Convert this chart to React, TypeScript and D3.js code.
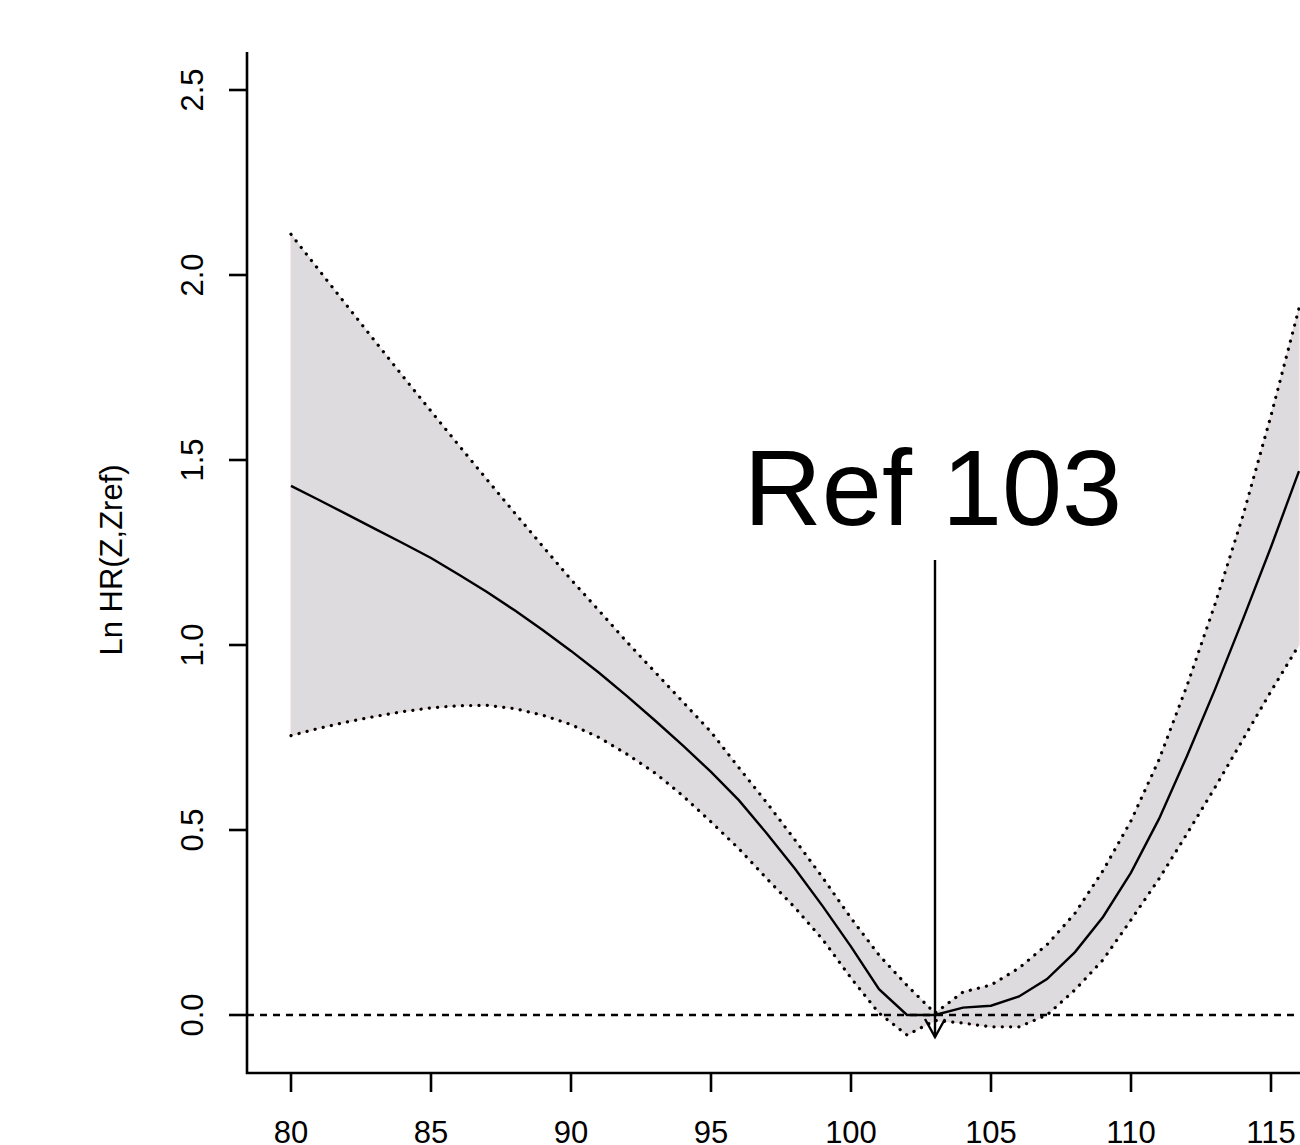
import React, { useEffect, useRef } from "react";
import * as d3 from "d3";

// hemoglobin-like exposure (x) vs log hazard ratio, reference at 103
const xValues = [80, 81, 82, 83, 84, 85, 86, 87, 88, 89, 90, 91, 92, 93, 94, 95, 96, 97, 98, 99, 100,
  101, 102, 103, 104, 105, 106, 107, 108, 109, 110, 111, 112, 113, 114, 115, 116];
const fitValues = [1.43, 1.392, 1.353, 1.314, 1.275, 1.235, 1.19, 1.143, 1.093, 1.04, 0.984, 0.925, 0.862,
  0.796, 0.728, 0.657, 0.58, 0.49, 0.395, 0.293, 0.185, 0.07, 0, 0, 0.02, 0.025, 0.05, 0.097, 0.17, 0.265,
  0.385, 0.53, 0.7, 0.88, 1.07, 1.265, 1.47];
const upperValues = [2.11, 2.013, 1.917, 1.821, 1.726, 1.632, 1.539, 1.447, 1.356, 1.266, 1.177, 1.093,
  1.008, 0.927, 0.846, 0.765, 0.668, 0.573, 0.473, 0.37, 0.262, 0.162, 0.08, 0.005, 0.062, 0.081, 0.127,
  0.19, 0.275, 0.39, 0.525, 0.69, 0.89, 1.11, 1.35, 1.62, 1.91];
const lowerValues = [0.755, 0.775, 0.792, 0.807, 0.82, 0.83, 0.836, 0.837, 0.828, 0.81, 0.785, 0.75,
  0.705, 0.654, 0.592, 0.522, 0.449, 0.368, 0.29, 0.203, 0.1, 0.005, -0.054, -0.015, -0.022, -0.032,
  -0.032, 0, 0.068, 0.149, 0.257, 0.368, 0.49, 0.615, 0.745, 0.875, 1.0];
const xTicks = [80, 85, 90, 95, 100, 105, 110, 115];
const yTicks = [0, 0.5, 1, 1.5, 2, 2.5];
const refValue = 103;
const refLabel = "Ref 103";
const yTitle = "Ln HR(Z,Zref)";

export default function App() {
  const ref = useRef<SVGSVGElement>(null);

  useEffect(() => {
    const W = 1300,
      H = 1145;
    const svg = d3.select(ref.current);
    svg.selectAll("*").remove();
    svg.attr("width", W).attr("height", H);

    const x = d3.scaleLinear().domain([80, 115]).range([291, 1271]);
    const y = d3.scaleLinear().domain([0, 2.5]).range([1015, 90]);
    const font = "'Liberation Sans', Arial, sans-serif";

    const pts = xValues.map((v, i) => ({ x: v, fit: fitValues[i], lo: lowerValues[i], hi: upperValues[i] }));

    // confidence band
    const area = d3
      .area<any>()
      .x((d) => x(d.x))
      .y0((d) => y(d.lo))
      .y1((d) => y(d.hi));
    svg
      .append("path")
      .datum(pts)
      .attr("d", area)
      .attr("fill", "#dddbde")
      .attr("stroke", "#ecd6d8")
      .attr("stroke-width", 1);

    const line = (key: string) =>
      d3
        .line<any>()
        .x((d) => x(d.x))
        .y((d) => y(d[key]));

    // dotted bounds
    ["hi", "lo"].forEach((k) => {
      svg
        .append("path")
        .datum(pts)
        .attr("d", line(k))
        .attr("fill", "none")
        .attr("stroke", "#000")
        .attr("stroke-width", 3.2)
        .attr("stroke-linecap", "round")
        .attr("stroke-dasharray", "0.1 8.2");
    });

    // fitted curve
    svg
      .append("path")
      .datum(pts)
      .attr("d", line("fit"))
      .attr("fill", "none")
      .attr("stroke", "#000")
      .attr("stroke-width", 2.4);

    // zero reference line
    svg
      .append("line")
      .attr("x1", 247)
      .attr("x2", W)
      .attr("y1", y(0))
      .attr("y2", y(0))
      .attr("stroke", "#000")
      .attr("stroke-width", 2.6)
      .attr("stroke-dasharray", "7 6");

    // arrow at reference
    const ax = x(refValue);
    svg
      .append("line")
      .attr("x1", ax)
      .attr("x2", ax)
      .attr("y1", 560)
      .attr("y2", 1037)
      .attr("stroke", "#000")
      .attr("stroke-width", 2.4);
    svg
      .append("path")
      .attr("d", `M${ax - 10},1019L${ax},1037L${ax + 10},1019`)
      .attr("fill", "none")
      .attr("stroke", "#000")
      .attr("stroke-width", 2.4);
    svg
      .append("text")
      .attr("x", ax - 2)
      .attr("y", 525)
      .attr("text-anchor", "middle")
      .style("font-family", font)
      .style("font-size", "108px")
      .text(refLabel);

    // axes (L-shaped frame)
    svg
      .append("path")
      .attr("d", `M247,52V1073H${W}`)
      .attr("fill", "none")
      .attr("stroke", "#000")
      .attr("stroke-width", 2.6);

    const xAxis = svg.append("g");
    xTicks.forEach((t) => {
      xAxis
        .append("line")
        .attr("x1", x(t))
        .attr("x2", x(t))
        .attr("y1", 1073)
        .attr("y2", 1092)
        .attr("stroke", "#000")
        .attr("stroke-width", 2.6);
      xAxis
        .append("text")
        .attr("x", x(t))
        .attr("y", 1143)
        .attr("text-anchor", "middle")
        .style("font-family", font)
        .style("font-size", "31px")
        .text(String(t));
    });

    const yAxis = svg.append("g");
    yTicks.forEach((t) => {
      yAxis
        .append("line")
        .attr("x1", 229)
        .attr("x2", 247)
        .attr("y1", y(t))
        .attr("y2", y(t))
        .attr("stroke", "#000")
        .attr("stroke-width", 2.6);
      yAxis
        .append("text")
        .attr("transform", `translate(203,${y(t)}) rotate(-90)`)
        .attr("text-anchor", "middle")
        .style("font-family", font)
        .style("font-size", "31px")
        .text(t.toFixed(1));
    });

    svg
      .append("text")
      .attr("transform", `translate(122,560) rotate(-90)`)
      .attr("text-anchor", "middle")
      .style("font-family", font)
      .style("font-size", "31px")
      .text(yTitle);
  }, []);

  return <svg ref={ref} style={{ position: "absolute", left: 0, top: 0, background: "#fff" }} />;
}
